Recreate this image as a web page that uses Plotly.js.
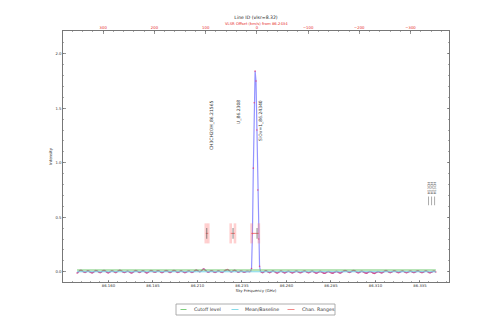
<!DOCTYPE html>
<html><head><meta charset="utf-8">
<script src="https://cdn.plot.ly/plotly-3.0.1.min.js"></script>
<style>html,body{margin:0;padding:0;background:#fff}#chart{width:498px;height:332px}</style>
</head><body><div id="chart"></div>
<script>
// ---------------- data ----------------
const restFreq = 86.2434;          // GHz, reference for VLSR offset axis
const speedOfLight = 299792.458;   // km/s
const freqStart = 86.1424;         // GHz, first channel
const chanWidth = 0.0005;          // GHz per channel
const intensity = [
-0.012,-0.008,0.002,0.010,0.014,0.012,0.006,0.000,-0.004,-0.006,-0.003,0.004,0.008,0.006,0.001,-0.005,-0.009,-0.010,-0.006,0.000,
0.006,0.010,0.009,0.004,-0.002,-0.007,-0.008,-0.004,0.003,0.009,0.012,0.010,0.004,-0.003,-0.008,-0.010,-0.007,-0.001,0.005,0.008,
0.007,0.002,-0.004,-0.008,-0.006,0.000,0.006,0.011,0.014,0.012,0.007,0.001,-0.004,-0.007,-0.005,0.000,0.004,0.005,0.002,-0.003,
-0.008,-0.011,-0.009,-0.003,0.003,0.008,0.010,0.007,0.002,-0.003,-0.006,-0.004,0.002,0.007,0.009,0.006,0.000,-0.006,-0.010,-0.009,
-0.004,0.002,0.007,0.010,0.008,0.003,-0.002,-0.005,-0.004,0.001,0.006,0.009,0.007,0.002,-0.004,-0.008,-0.007,-0.002,0.004,0.008,
0.010,0.008,0.003,-0.003,-0.007,-0.006,-0.001,0.005,0.010,0.012,0.009,0.003,-0.003,-0.006,-0.004,0.001,0.006,0.008,0.005,0.000,
-0.005,-0.008,-0.006,-0.001,0.004,0.007,0.006,0.002,-0.003,-0.006,-0.004,0.002,0.008,0.013,0.015,0.012,0.007,0.002,0.000,0.004,
0.012,0.020,0.025,0.022,0.014,0.006,0.000,-0.004,-0.003,0.002,0.007,0.009,0.006,0.001,-0.004,-0.006,-0.003,0.002,0.006,0.007,
0.004,-0.001,-0.005,-0.006,-0.002,0.004,0.010,0.015,0.018,0.020,0.016,0.009,0.003,-0.002,0.000,0.006,0.012,0.014,0.010,0.004,
-0.001,-0.004,-0.002,0.003,0.006,0.005,0.001,-0.003,-0.004,-0.001,0.003,0.005,0.004,0.002,0.001,0.004,0.030,0.350,0.950,1.550,
1.840,1.750,1.300,0.750,0.300,0.050,0.004,-0.004,-0.008,-0.006,0.000,0.006,0.009,0.006,0.000,-0.005,-0.008,-0.006,-0.001,0.004,
0.007,0.005,0.000,-0.006,-0.010,-0.011,-0.007,-0.001,0.004,0.006,0.003,-0.002,-0.007,-0.010,-0.008,-0.003,0.002,0.005,0.004,0.000,
-0.005,-0.009,-0.010,-0.007,-0.002,0.003,0.006,0.005,0.001,-0.004,-0.008,-0.009,-0.006,-0.001,0.004,0.007,0.006,0.002,-0.003,-0.007,
-0.009,-0.007,-0.002,0.003,0.005,0.003,-0.002,-0.007,-0.011,-0.012,-0.009,-0.004,0.001,0.003,0.001,-0.004,-0.009,-0.013,-0.014,-0.011,
-0.006,-0.001,0.002,0.001,-0.004,-0.009,-0.012,-0.013,-0.010,-0.005,0.000,0.003,0.002,-0.003,-0.008,-0.012,-0.011,-0.006,0.000,0.005,
0.008,0.010,0.009,0.005,0.000,-0.004,-0.006,-0.003,0.002,0.007,0.011,0.012,0.008,0.002,-0.004,-0.008,-0.009,-0.006,-0.001,0.003,
0.004,0.001,-0.004,-0.009,-0.012,-0.013,-0.010,-0.005,0.000,0.002,0.000,-0.005,-0.010,-0.014,-0.015,-0.012,-0.007,-0.002,0.001,0.000,
-0.004,-0.008,-0.010,-0.008,-0.003,0.003,0.008,0.010,0.007,0.002,-0.003,-0.007,-0.008,-0.005,0.000,0.005,0.008,0.007,0.003,-0.002,
-0.006,-0.008,-0.006,-0.001,0.004,0.007,0.006,0.002,-0.003,-0.007,-0.009,-0.007,-0.002,0.003,0.006,0.005,0.001,-0.004,-0.007,-0.006,
-0.002,0.003,0.007,0.008,0.005,0.000,-0.005,-0.008,-0.007,-0.003,0.002,0.006,0.007,0.004,-0.001,-0.006,-0.009,-0.008,-0.004,0.001,
0.005,0.006,0.003,-0.002
];
const cutoffLevel = 0.016;
const meanLevel = 0.0;

const lineLabels   = ["CH3CH2OH_86.21565", "U_86.2308", "SiOv=1_86.24340"];
const lineFreqs    = [86.21565, 86.2308, 86.2434];
const lineMarkFreq = [86.2152, 86.2300, 86.2435];
const rangeLo      = [86.2147, 86.2287, 86.2404];
const rangeHi      = [86.2161, 86.2311, 86.2445];
const rangeLevel   = 0.352;

const edgeLabels = ["H13CN", "H13CN", "H13CN"];
const edgeFreqs  = [86.3398, 86.3415, 86.3432];

const freqTicks = [86.160, 86.185, 86.210, 86.235, 86.260, 86.285, 86.310, 86.335];
const velTicks  = [300, 200, 100, 0, -100, -200, -300];

// ---------------- build ----------------
const FONT = "DejaVu Sans, Liberation Sans, sans-serif";
const freqs = intensity.map((_, i) => +(freqStart + i * chanWidth).toFixed(5));
const xRange = [86.1345, 86.3513];
const toVel = f => speedOfLight * (restFreq - f) / restFreq;
const PL = 63, PR = 449, PT = 31, PB = 282;
const px2x = p => (p - PL) / (PR - PL);
const py2y = p => (PB - p) / (PB - PT);

const fFirst = freqs[0], fLast = freqs[freqs.length - 1];

const traces = [
  { x: freqs, y: intensity, type: "scatter", mode: "lines+markers",
    line: { color: "rgba(120,120,255,0.8)", width: 1.2 },
    marker: { color: "rgba(225,60,120,0.8)", size: 1.6 },
    showlegend: false, hoverinfo: "x+y" },
  { x: [fFirst, fLast], y: [cutoffLevel, cutoffLevel], type: "scatter", mode: "lines",
    name: "Cutoff level", line: { color: "rgb(110,200,110)", width: 1 }, showlegend: false },
  { x: [fFirst, fLast], y: [meanLevel, meanLevel], type: "scatter", mode: "lines",
    name: "Mean/Baseline", line: { color: "rgb(120,215,230)", width: 1 }, showlegend: false },
  { x: rangeLo.flatMap((lo, i) => [lo, rangeHi[i], null]),
    y: rangeLo.flatMap(() => [rangeLevel, rangeLevel, null]),
    type: "scatter", mode: "lines", name: "Chan. Ranges",
    line: { color: "rgba(235,70,70,0.9)", width: 0.8 }, showlegend: false },
  { x: lineFreqs.map(toVel), y: lineFreqs.map(() => rangeLevel), xaxis: "x2", yaxis: "y",
    type: "scatter", mode: "markers", opacity: 0, showlegend: false, hoverinfo: "skip" }
];

const shapes = [];
rangeLo.forEach((lo, i) => {
  [lo, rangeHi[i]].forEach(f => shapes.push({ type: "line", xref: "x", yref: "y",
    x0: f, x1: f, y0: rangeLevel - 0.092, y1: rangeLevel + 0.092,
    line: { color: "rgba(255,120,120,0.35)", width: 2.6 } }));
  shapes.push({ type: "line", xref: "x", yref: "y", x0: lineMarkFreq[i], x1: lineMarkFreq[i],
    y0: rangeLevel - 0.05, y1: rangeLevel + 0.05, line: { color: "rgba(90,90,90,0.55)", width: 1.3 } });
});
edgeFreqs.forEach(f => shapes.push({ type: "line", xref: "x", yref: "y", x0: f, x1: f,
  y0: 0.61, y1: 0.69, line: { color: "#888", width: 0.7 } }));

// manual legend
const legY = py2y(309.5);
shapes.push({ type: "rect", xref: "paper", yref: "paper", x0: px2x(176), x1: px2x(335),
  y0: py2y(315), y1: py2y(304), line: { color: "#999", width: 0.8 }, fillcolor: "#fff" });
const legItems = [
  { name: "Cutoff level", color: "rgb(110,200,110)", l0: 180.5, l1: 186.5, t: 192 },
  { name: "Mean/Baseline", color: "rgb(120,215,230)", l0: 231.5, l1: 238.5, t: 242.5 },
  { name: "Chan. Ranges", color: "rgba(240,110,110,0.9)", l0: 287.5, l1: 294.5, t: 300 }
];

const annotations = [];
legItems.forEach(it => {
  shapes.push({ type: "line", xref: "paper", yref: "paper", x0: px2x(it.l0), x1: px2x(it.l1),
    y0: legY, y1: legY, line: { color: it.color, width: 0.9 } });
  annotations.push({ xref: "paper", yref: "paper", x: px2x(it.t), y: legY, xanchor: "left",
    yanchor: "middle", text: it.name, showarrow: false, font: { family: FONT, size: 4.7, color: "#333" } });
});

lineLabels.forEach((t, i) => annotations.push({ xref: "x", yref: "y", x: lineFreqs[i], y: 1.595,
  xanchor: "left", yanchor: "top", xshift: -0.3, textangle: -90, text: t, showarrow: false,
  font: { family: FONT, size: 4.5, color: "#333" } }));
edgeLabels.forEach((t, i) => annotations.push({ xref: "x", yref: "y", x: edgeFreqs[i], y: 0.69,
  xanchor: "center", yanchor: "bottom", textangle: -90, text: t, showarrow: false,
  font: { family: FONT, size: 3.4, color: "#555" } }));

annotations.push({ xref: "paper", yref: "paper", x: 0.5, y: py2y(23.5), xanchor: "center",
  yanchor: "middle", text: "VLSR Offset (km/s) from 86.2434", showarrow: false,
  font: { family: FONT, size: 3.8, color: "rgb(230,40,40)" } });

const axisCommon = { showgrid: false, zeroline: false, showline: true, linecolor: "#555",
  linewidth: 0.8, ticks: "inside", ticklen: 2.5, tickwidth: 0.6, tickcolor: "#555",
  tickfont: { family: FONT, size: 3.8, color: "#333" } };

const layout = {
  width: 498, height: 332,
  margin: { l: PL, r: 498 - PR, t: PT, b: 332 - PB, pad: 0 },
  paper_bgcolor: "#fff", plot_bgcolor: "#fff",
  font: { family: FONT, size: 3.8, color: "#333" },
  showlegend: false,
  title: { text: "Line ID (vlsr=8.32)", font: { family: FONT, size: 4.6, color: "#222" },
    x: 0.5, xref: "paper", y: 1 - 17 / 332, yref: "container", yanchor: "middle", xanchor: "center" },
  xaxis: Object.assign({}, axisCommon, {
    range: xRange, tickvals: freqTicks, ticktext: freqTicks.map(v => v.toFixed(3)),
    minor: { dtick: 0.005, tick0: 86.16, ticks: "inside", ticklen: 1.3, tickcolor: "#555", tickwidth: 0.5 },
    title: { text: "Sky Frequency (GHz)", font: { family: FONT, size: 3.9, color: "#333" }, standoff: 1.5 },
    automargin: false, ticklabelstandoff: 0 }),
  xaxis2: Object.assign({}, axisCommon, {
    overlaying: "x", side: "top", anchor: "y",
    range: xRange.map(toVel), tickvals: velTicks,
    tickfont: { family: FONT, size: 3.8, color: "rgb(230,40,40)" },
    minor: { dtick: 20, ticks: "inside", ticklen: 1.3, tickcolor: "#555", tickwidth: 0.5 },
    automargin: false }),
  yaxis: Object.assign({}, axisCommon, {
    range: [-0.094, 2.208], tickvals: [0, 0.5, 1.0, 1.5, 2.0], ticktext: ["0.0","0.5","1.0","1.5","2.0"],
    mirror: "ticks",
    minor: { dtick: 0.1, tick0: 0, ticks: "inside", ticklen: 1.3, tickcolor: "#555", tickwidth: 0.5 },
    title: { text: "Intensity", font: { family: FONT, size: 3.9, color: "#333" }, standoff: 2.3 },
    automargin: false }),
  shapes: shapes,
  annotations: annotations
};

Plotly.newPlot("chart", traces, layout, { displayModeBar: false, responsive: false, staticPlot: true });
</script>
</body></html>
